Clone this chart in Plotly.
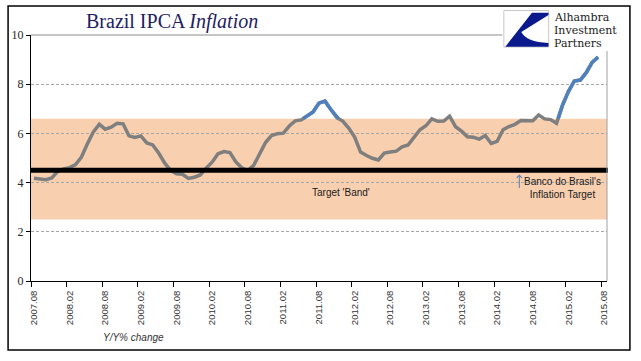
import plotly.graph_objects as go

# ---------------- data ----------------
ALL_MONTHS = [f"{y}.{m:02d}" for y in range(2007, 2016) for m in range(1, 13)]
MONTHS = ALL_MONTHS[ALL_MONTHS.index("2007.08"):ALL_MONTHS.index("2015.08") + 1]

IPCA_YOY = [
    4.18, 4.15, 4.12, 4.19, 4.46,                                          # 2007.08-12
    4.56, 4.61, 4.73, 5.04, 5.58, 6.06, 6.37, 6.17, 6.25, 6.41, 6.39, 5.90,  # 2008
    5.84, 5.90, 5.61, 5.53, 5.20, 4.80, 4.50, 4.36, 4.34, 4.17, 4.22, 4.31,  # 2009
    4.59, 4.83, 5.17, 5.26, 5.22, 4.84, 4.60, 4.49, 4.70, 5.20, 5.63, 5.91,  # 2010
    5.99, 6.01, 6.30, 6.51, 6.55, 6.71, 6.87, 7.23, 7.31, 6.97, 6.64, 6.50,  # 2011
    6.22, 5.85, 5.24, 5.10, 4.99, 4.92, 5.20, 5.24, 5.28, 5.45, 5.53, 5.84,  # 2012
    6.15, 6.31, 6.59, 6.49, 6.50, 6.70, 6.27, 6.09, 5.86, 5.84, 5.77, 5.91,  # 2013
    5.59, 5.68, 6.15, 6.28, 6.37, 6.52, 6.50, 6.51, 6.75, 6.59, 6.56, 6.41,  # 2014
    7.14, 7.70, 8.13, 8.17, 8.47, 8.89, 9.10, None,                          # 2015
]

BAND_LOW = 2.5
BAND_HIGH = 6.6
TARGET = 4.5
HIGHLIGHT_PERIODS = [("2011.05", "2011.12"), ("2014.12", "2015.08")]
TICK_LABELS = MONTHS[::6]
Y_TICKS = [0, 2, 4, 6, 8, 10]
LOGO_LINES = ["Alhambra", "Investment", "Partners"]

# ---------------- geometry helpers ----------------
W, H = 641, 361
ML, MR, MT, MB = 29, 34, 35, 80
PW, PH = W - ML - MR, H - MT - MB


def px(x):
    return (x - ML) / PW


def py(y):
    return (H - MB - y) / PH


idx = list(range(len(MONTHS)))
X_MIN, X_MAX = -0.5, len(MONTHS) - 0.5

# blue highlight: parts of highlighted periods that lie above the band
bx, by = [], []
for start, end in HIGHLIGHT_PERIODS:
    a, b = MONTHS.index(start), MONTHS.index(end)
    run = []
    for i in range(a, b):
        v0, v1 = IPCA_YOY[i], IPCA_YOY[i + 1]
        if v0 is None or v1 is None or (v0 < BAND_HIGH and v1 < BAND_HIGH):
            if run:
                bx += [p[0] for p in run] + [None]
                by += [p[1] for p in run] + [None]
                run = []
            continue
        xs, ys, xe, ye = i, v0, i + 1, v1
        if v0 < BAND_HIGH:
            xs = i + (BAND_HIGH - v0) / (v1 - v0)
            ys = BAND_HIGH
        if v1 < BAND_HIGH:
            xe = i + (BAND_HIGH - v0) / (v1 - v0)
            ye = BAND_HIGH
        if not run:
            run.append((xs, ys))
        run.append((xe, ye))
    if run:
        bx += [p[0] for p in run] + [None]
        by += [p[1] for p in run] + [None]

fig = go.Figure()
fig.add_trace(go.Scatter(x=idx, y=IPCA_YOY, mode="lines",
                         line=dict(color="#7F7F7F", width=3.5),
                         connectgaps=False, hoverinfo="skip"))
fig.add_trace(go.Scatter(x=bx, y=by, mode="lines",
                         line=dict(color="#4F81BD", width=3.5),
                         connectgaps=False, hoverinfo="skip"))

shapes = []
# target band
shapes.append(dict(type="rect", xref="x", yref="y", x0=X_MIN, x1=X_MAX,
                   y0=BAND_LOW, y1=BAND_HIGH, fillcolor="#F8D0B0",
                   line=dict(width=0), layer="below"))
# target line
shapes.append(dict(type="line", xref="paper", yref="y", x0=0, x1=px(608),
                   y0=TARGET, y1=TARGET, line=dict(color="black", width=5),
                   layer="above"))
# plot area top/right border
shapes.append(dict(type="line", xref="paper", yref="paper", x0=0, x1=1, y0=1, y1=1,
                   line=dict(color="#8C8C8C", width=1), layer="above"))
shapes.append(dict(type="line", xref="paper", yref="paper", x0=1, x1=1, y0=0, y1=1,
                   line=dict(color="#A0A0A0", width=1), layer="above"))
# outer chart border
shapes.append(dict(type="rect", xref="paper", yref="paper", x0=px(6), x1=px(630),
                   y0=py(350), y1=py(6), line=dict(color="black", width=1.5),
                   fillcolor="rgba(0,0,0,0)", layer="above"))
# logo white box
shapes.append(dict(type="rect", xref="paper", yref="paper", x0=px(502), x1=px(626),
                   y0=py(51), y1=py(8), fillcolor="white", line=dict(width=0),
                   layer="above"))
# logo icon frame
shapes.append(dict(type="rect", xref="paper", yref="paper", x0=px(503.5), x1=px(548.5),
                   y0=py(47), y1=py(10.5), fillcolor="white",
                   line=dict(color="#C8C8C8", width=1), layer="above"))

icon_pts = [("M", 531.7, 12.7), ("L", 548.3, 12.7), ("L", 548.3, 15.0),
            ("L", 521.0, 32.0), ("Q", 526.0, 42.0, 548.3, 43.0), ("L", 548.3, 46.7),
            ("L", 505.0, 46.7)]
path = ""
for p in icon_pts:
    if p[0] == "Q":
        path += f"Q {px(p[1]):.5f},{py(p[2]):.5f} {px(p[3]):.5f},{py(p[4]):.5f} "
    else:
        path += f"{p[0]} {px(p[1]):.5f},{py(p[2]):.5f} "
path += "Z"
shapes.append(dict(type="path", xref="paper", yref="paper", path=path,
                   fillcolor="#0A1A8C", line=dict(width=0), layer="above"))

LOGO_FONT = dict(family="DejaVu Serif", size=11, color="#1A1A1A")
annotations = [
    dict(text="Brazil IPCA <i>Inflation</i>", xref="paper", yref="paper",
         x=px(170), y=py(21.5), showarrow=False, xanchor="center", yanchor="middle",
         font=dict(family="Liberation Serif", size=20, color="#1D2062")),
    dict(text="<i>Y/Y% change</i>", xref="paper", yref="paper", x=px(132), y=py(337),
         showarrow=False, xanchor="center", yanchor="middle",
         font=dict(family="Liberation Sans", size=10, color="#333333")),
    dict(text="Target 'Band'", xref="paper", yref="paper", x=px(340), y=py(192.5),
         showarrow=False, xanchor="center", yanchor="middle",
         font=dict(family="Liberation Sans", size=10, color="#1A1A1A")),
    dict(text="Banco do Brasil's<br>Inflation Target", xref="paper", yref="paper",
         x=px(562.5), y=py(187.5), showarrow=False, xanchor="center", yanchor="middle",
         align="center", font=dict(family="Liberation Sans", size=10, color="#1A1A1A")),
    dict(text="", xref="paper", yref="paper", x=px(519), y=py(174.5),
         showarrow=True, ax=0, ay=15, arrowhead=4, arrowsize=1, arrowwidth=1,
         arrowcolor="#5B7FB0", standoff=0, startstandoff=0),
]
for k, line in enumerate(LOGO_LINES):
    annotations.append(dict(text=line, xref="paper", yref="paper", x=px(552),
                            y=py(17.5 + 13 * k), showarrow=False, xanchor="left",
                            yanchor="middle", font=LOGO_FONT))

fig.update_layout(
    width=W, height=H, autosize=False,
    margin=dict(l=ML, r=MR, t=MT, b=MB, pad=0),
    paper_bgcolor="white", plot_bgcolor="white", showlegend=False,
    shapes=shapes, annotations=annotations,
    xaxis=dict(range=[X_MIN, X_MAX], tickmode="array",
               tickvals=[MONTHS.index(l) - 0.5 for l in TICK_LABELS],
               ticktext=TICK_LABELS, tickangle=-90, ticks="outside", ticklen=5,
               tickcolor="black", tickwidth=1, showline=True, linecolor="black",
               linewidth=1, showgrid=False, zeroline=False, ticklabelshift=3,
               tickfont=dict(family="Liberation Sans", size=9.5, color="#333333")),
    yaxis=dict(range=[0, 10], tickmode="array", tickvals=Y_TICKS, ticks="outside",
               ticklen=4, tickcolor="black", tickwidth=1, showline=True,
               linecolor="black", linewidth=1, showgrid=True, gridcolor="#A6A6A6",
               griddash="3px,2px", gridwidth=1, zeroline=False,
               tickfont=dict(family="Liberation Serif", size=12, color="#262626")),
)

fig.write_html("out.html", config={"displayModeBar": False},
               post_script="document.body.style.margin='0';")
